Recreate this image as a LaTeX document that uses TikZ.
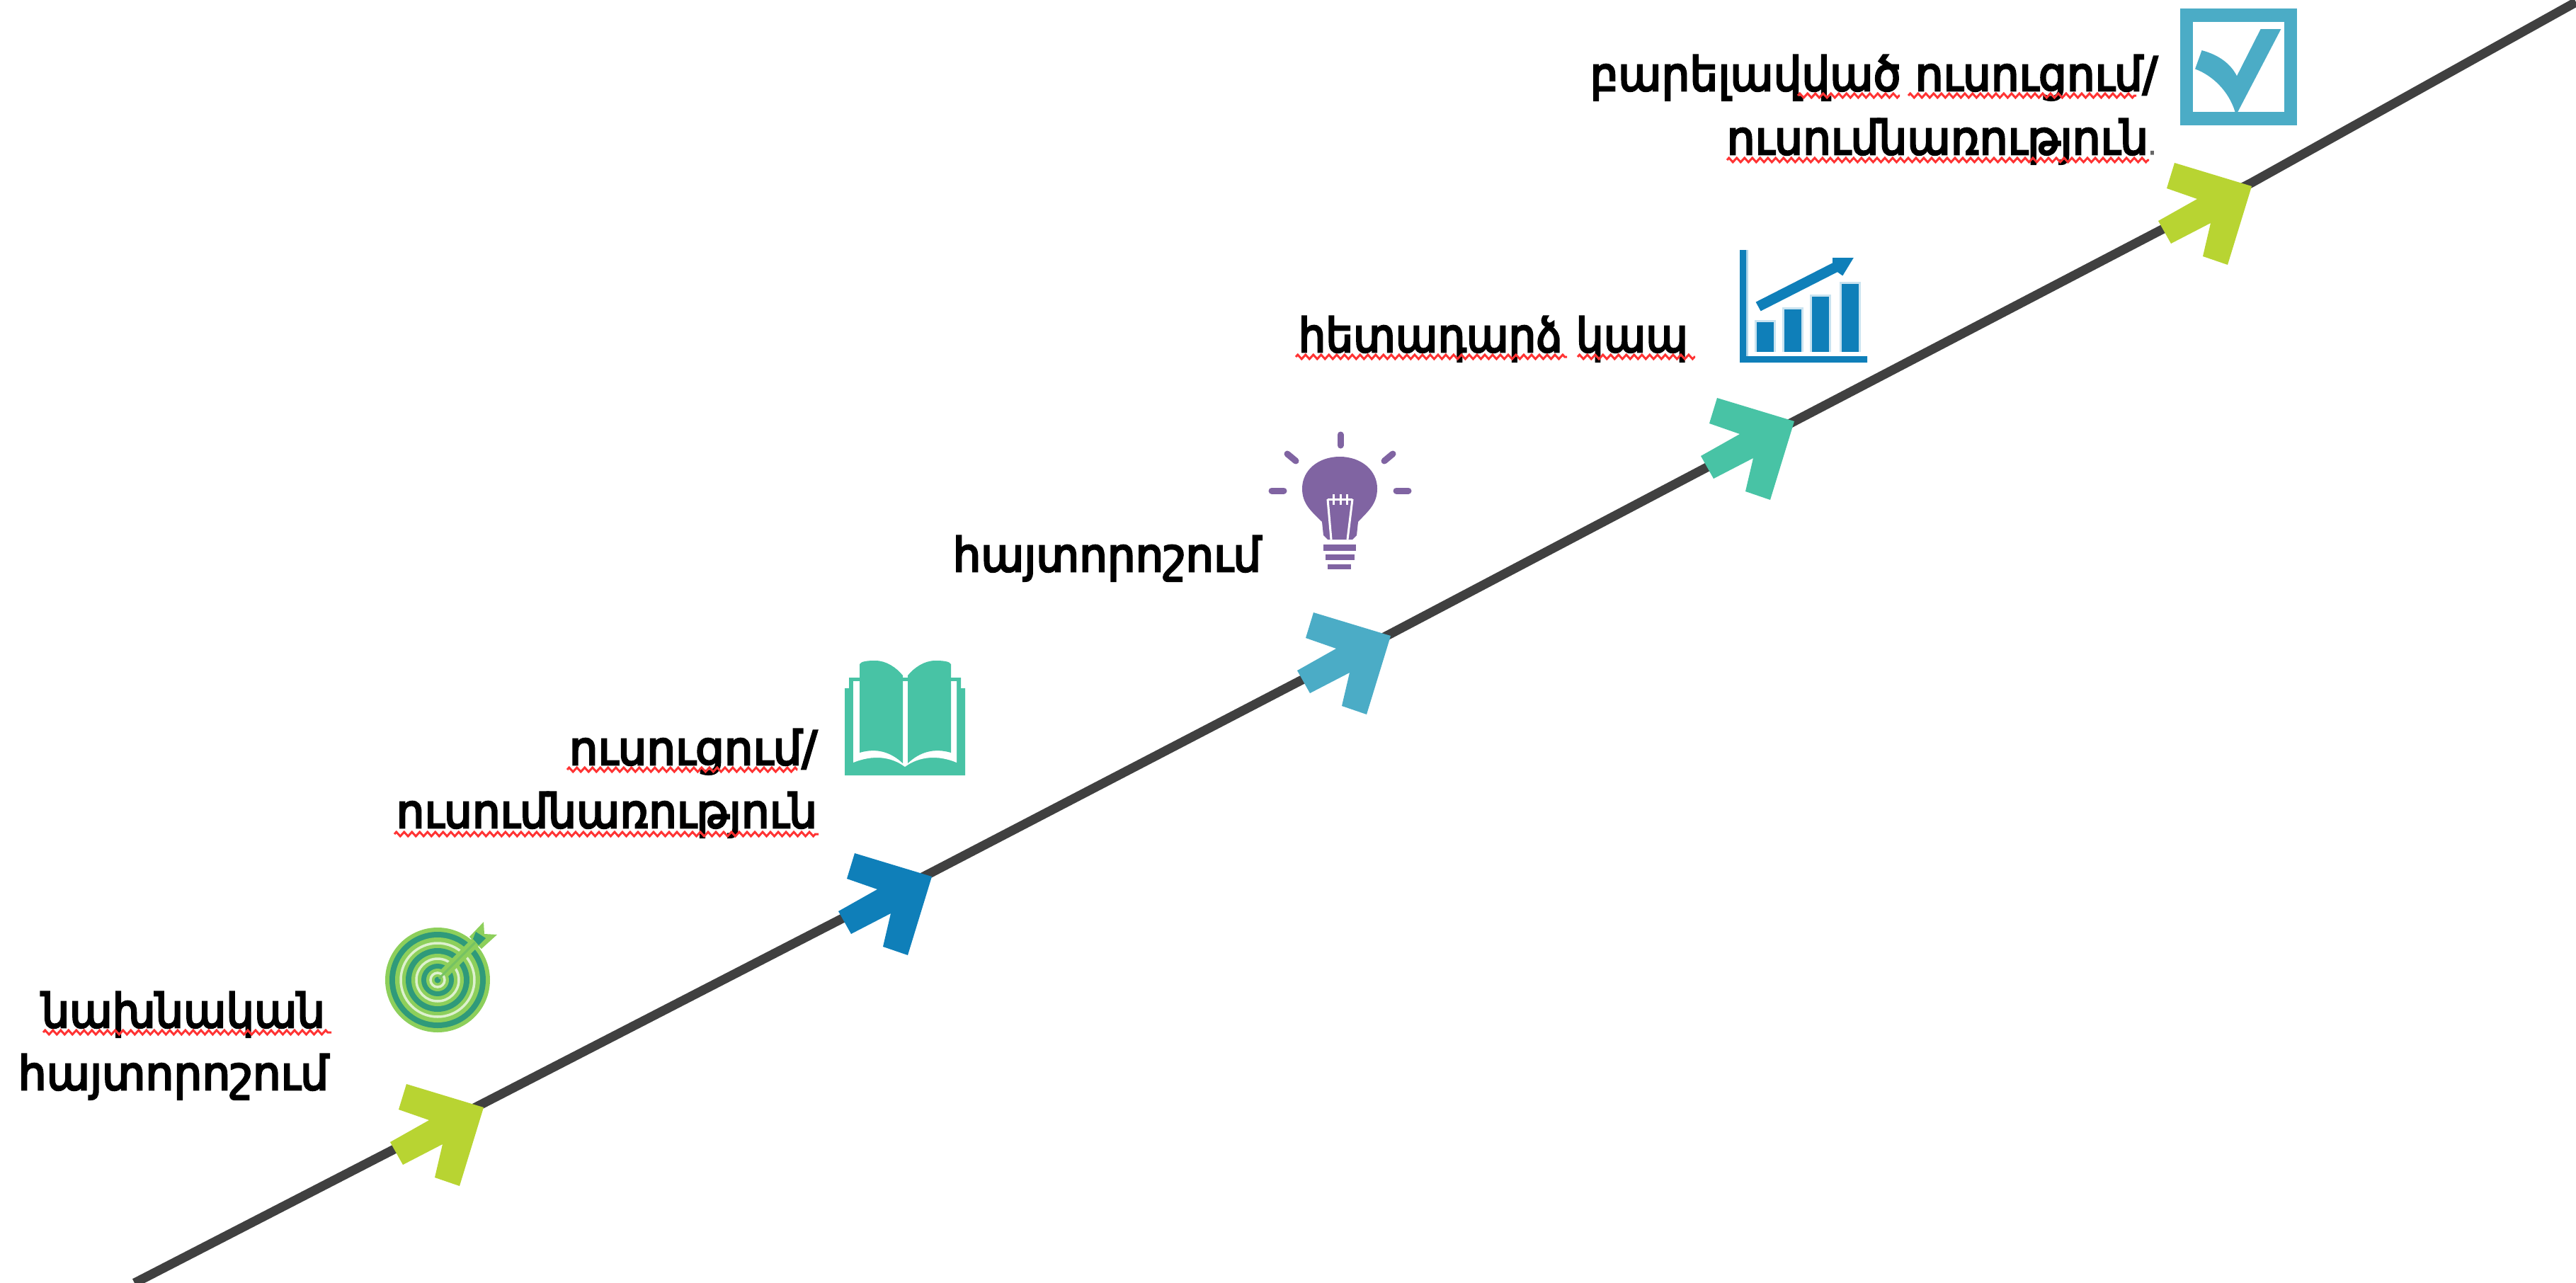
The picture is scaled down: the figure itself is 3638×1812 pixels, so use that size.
\documentclass[tikz,border=0pt]{standalone}
\usepackage{fontspec}
\usepackage{graphicx}
\usetikzlibrary{decorations.pathmorphing}
\newfontfamily\hyfont[FakeBold=4]{DejaVu Sans}
\newcommand\hyfit[2]{\resizebox{#1}{\height}{\hyfont\fontsize{18.8pt}{22pt}\selectfont #2}}
\definecolor{lime}{HTML}{B8D432}
\definecolor{blu}{HTML}{0F7FB9}
\definecolor{sky}{HTML}{4BACC6}
\definecolor{mint}{HTML}{48C3A5}
\definecolor{purp}{HTML}{8064A2}
\definecolor{tgl}{HTML}{8DCF5B}
\definecolor{tgd}{HTML}{2F9A7A}
\definecolor{rail}{HTML}{404040}
\tikzset{
  label/.style={inner sep=0pt,outer sep=0pt,anchor=base east,text=black},
  squiggle/.style={draw=red!80!white,line width=0.03cm,decorate,decoration={zigzag,amplitude=0.03cm,segment length=0.11cm}},
  railline/.style={draw=rail,line width=0.13cm,line join=round},
  ray/.style={draw=purp,line width=0.09cm,line cap=round},
  fil/.style={draw=white,line width=0.03cm},
  ringline/.style={draw=white!70!tgl,line width=0.035cm},
  pics/steparrow/.style={code={
    \fill[#1] (0,0) -- (-109,-33) -- (-120,3) -- (-77,18) -- (-132,49) -- (-114,81) -- (-58,52) -- (-69,99) -- (-34,111) -- cycle;
  }}
}
\begin{document}
\begin{tikzpicture}[x=0.01cm,y=-0.01cm]
\useasboundingbox (0,0) rectangle (3638,1812);
% rail
\coordinate (r0) at (190,1812);
\coordinate (r1) at (683,1558);
\coordinate (r2) at (1316,1232);
\coordinate (r3) at (1964,895);
\coordinate (r4) at (2534,595);
\coordinate (r5) at (3180,258);
\coordinate (r6) at (3638,3);
\draw[railline] (r0) -- (r1) -- (r2) -- (r3) -- (r4) -- (r5) -- (r6);
% arrows
\pic at (683,1564) {steparrow=lime};
\pic at (1316,1238) {steparrow=blu};
\pic at (1964,898) {steparrow=sky};
\pic at (2534,595) {steparrow=mint};
\pic at (3180,263) {steparrow=lime};
% labels
\node[label] (t1a) at (459,1451) {\hyfit{4.00cm}{նախնական}};
\node[label] (t1b) at (464,1539) {\hyfit{4.38cm}{հայտորոշում}};
\node[label] (t2a) at (1154,1080) {\hyfit{3.50cm}{ուսուցում/}};
\node[label] (t2b) at (1154,1169) {\hyfit{5.94cm}{ուսումնառություն}};
\node[label] (t3) at (1781,807) {\hyfit{4.35cm}{հայտորոշում}};
\node[label] (t4) at (2384,497) {\hyfit{5.50cm}{հետադարձ կապ}};
\node[label] (t5a) at (3047,128) {\hyfit{8.01cm}{բարելավված ուսուցում/}};
\node[label] (t5b) at (3045,218) {\hyfit{6.06cm}{ուսումնառություն\scalebox{0.55}{\color{black!60}.}}};
% spell-check underlines
\draw[squiggle] (61,1458) -- (468,1458);
\draw[squiggle] (801,1087) -- (1126,1087);
\draw[squiggle] (557,1178) -- (1156,1178);
\draw[squiggle] (1830,504) -- (2213,504);
\draw[squiggle] (2228,504) -- (2394,504);
\draw[squiggle] (2539,135) -- (2683,135);
\draw[squiggle] (2695,135) -- (3017,135);
\draw[squiggle] (2439,226) -- (3035,226);
% target
\coordinate (tc) at (618,1384);
\fill[tgl] (tc) circle[radius=74];
\fill[tgd] (tc) circle[radius=68];
\fill[tgl] (tc) circle[radius=60];
\draw[ringline] (tc) circle[radius=52];
\fill[tgd] (tc) circle[radius=45];
\fill[tgl] (tc) circle[radius=37];
\draw[ringline] (tc) circle[radius=30];
\fill[tgd] (tc) circle[radius=23];
\fill[tgl] (tc) circle[radius=16];
\draw[ringline] (tc) circle[radius=10];
\fill[tgd] (tc) circle[radius=4.5];
\draw[tgl,line width=0.14cm] (628,1374) -- (672,1330);
\draw[tgl!75!tgd,line width=0.03cm] (620,1382) -- (672,1330);
\fill[tgl] (683,1302) -- (684,1319) -- (702,1320) -- (680,1340) -- (663,1323) -- cycle;
\fill[tgd] (672,1316) -- (686,1325) -- (676,1335) -- (668,1326) -- cycle;
% book
\fill[mint] (1193,972) -- (1199,972) -- (1199,957) -- (1357,957) -- (1357,972) -- (1363,972) -- (1363,1095) -- (1193,1095) -- cycle;
\fill[white] (1205,962) -- (1351,962) -- (1351,1077) .. controls (1325,1066) and (1298,1068) .. (1278,1083) .. controls (1258,1068) and (1232,1066) .. (1205,1077) -- cycle;
\fill[mint] (1214,938) .. controls (1216,934) and (1225,933) .. (1236,933) .. controls (1252,933) and (1266,943) .. (1275,954) -- (1275,1078) .. controls (1258,1062) and (1238,1056) .. (1214,1063) -- cycle;
\fill[mint] (1343,938) .. controls (1341,934) and (1332,933) .. (1321,933) .. controls (1305,933) and (1291,943) .. (1282,954) -- (1282,1078) .. controls (1299,1062) and (1319,1056) .. (1343,1063) -- cycle;
% bulb
\fill[purp] (1867,737) .. controls (1852,722) and (1839,712) .. (1839,690) .. controls (1839,664) and (1862,645) .. (1892,645) .. controls (1922,645) and (1945,664) .. (1945,690) .. controls (1945,712) and (1932,722) .. (1918,737) -- (1916,756) -- (1910,762) -- (1875,762) -- (1869,756) -- cycle;
\draw[fil] (1875,705) -- (1880,762);
\draw[fil] (1910,705) -- (1903,762);
\draw[fil] (1875,705) -- (1910,705);
\draw[fil] (1883,698) -- (1883,713);
\draw[fil] (1893,698) -- (1893,713);
\draw[fil] (1902,698) -- (1902,713);
\fill[purp] (1869,769) rectangle (1915,778);
\fill[purp] (1872,783) rectangle (1913,791);
\fill[purp] (1875,797) rectangle (1908,804);
\draw[ray] (1893,614) -- (1893,629);
\draw[ray] (1818,641) -- (1830,651);
\draw[ray] (1967,641) -- (1955,651);
\draw[ray] (1796,693) -- (1813,693);
\draw[ray] (1972,693) -- (1989,693);
% chart
\fill[blu!30!white] (2466,353) rectangle (2469,503);
\fill[blu] (2457,353) -- (2466,353) -- (2466,503) -- (2637,503) -- (2637,512) -- (2457,512) -- cycle;
\fill[blu!22!white] (2478,452) rectangle (2508,497);
\fill[blu!22!white] (2517,434) rectangle (2547,497);
\fill[blu!22!white] (2556,416) rectangle (2586,497);
\fill[blu!22!white] (2598,398) rectangle (2628,497);
\fill[blu] (2481,455) rectangle (2505,497);
\fill[blu] (2520,437) rectangle (2544,497);
\fill[blu] (2559,419) rectangle (2583,497);
\fill[blu] (2601,401) rectangle (2625,497);
\fill[draw=blu,line width=0.02cm,blu] (2481,427) -- (2589,372) -- (2589,365) -- (2616,365) -- (2602,388) -- (2595,383) -- (2487,438) -- cycle;
% checkbox
\fill[sky] (3079,12) rectangle (3244,177);
\fill[white] (3097,31) rectangle (3226,158);
\fill[draw=sky,line width=0.015cm,sky] (3193,42) -- (3220,42) -- (3160,157) -- (3157,157) .. controls (3148,128) and (3125,106) .. (3101,97) -- (3110,72) .. controls (3132,78) and (3150,90) .. (3159,109) -- cycle;
\end{tikzpicture}
\end{document}
